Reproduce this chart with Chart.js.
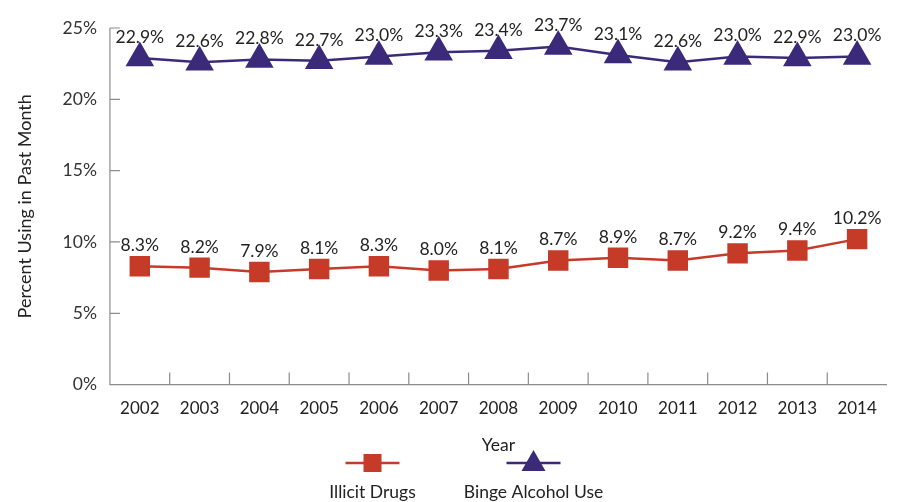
<!DOCTYPE html>
<html>
<head>
<meta charset="utf-8">
<script src="https://cdn.jsdelivr.net/npm/chart.js@4.4.0/dist/chart.umd.min.js"></script>
<style>
  html, body { margin: 0; padding: 0; background: #fff; }
  #wrap { width: 905px; height: 502px; }
</style>
</head>
<body>
<div id="wrap"><canvas id="grafico" width="905" height="502"></canvas></div>
<script>
// Datos del gráfico
const years = ['2002', '2003', '2004', '2005', '2006', '2007', '2008', '2009', '2010', '2011', '2012', '2013', '2014'];
const illicitDrugs = [8.3, 8.2, 7.9, 8.1, 8.3, 8.0, 8.1, 8.7, 8.9, 8.7, 9.2, 9.4, 10.2];
const bingeAlcohol = [22.9, 22.6, 22.8, 22.7, 23.0, 23.3, 23.4, 23.7, 23.1, 22.6, 23.0, 22.9, 23.0];
const yTicks = [0, 5, 10, 15, 20, 25];

const RED = '#c63a28';
const PURPLE = '#3b2a7a';
const AXIS = '#8c8c8c';
const FONT = 'Lato, "Open Sans", sans-serif';

// Etiquetas de valor encima de cada punto
const etiquetas = {
  id: 'etiquetas',
  afterDatasetsDraw(chart) {
    const ctx = chart.ctx;
    ctx.save();
    ctx.font = '17.5px ' + FONT;
    ctx.fillStyle = '#222';
    ctx.textAlign = 'center';
    ctx.textBaseline = 'bottom';
    chart.data.datasets.forEach((ds, i) => {
      chart.getDatasetMeta(i).data.forEach((pt, j) => {
        ctx.fillText(ds.data[j].toFixed(1) + '%', pt.x, pt.y - 12);
      });
    });
    ctx.restore();
  }
};

// Marcas de los ejes hacia adentro y leyenda abajo
const ejesYLeyenda = {
  id: 'ejesYLeyenda',
  afterDraw(chart) {
    const ctx = chart.ctx;
    const x = chart.scales.x, y = chart.scales.y;
    const a = chart.chartArea;
    ctx.save();
    ctx.strokeStyle = AXIS;
    ctx.lineWidth = 1.2;
    ctx.beginPath();
    ctx.moveTo(a.left, a.top);
    ctx.lineTo(a.left, a.bottom);
    ctx.lineTo(a.right, a.bottom);
    yTicks.forEach(v => {
      if (v === 0) return;
      const py = y.getPixelForValue(v);
      ctx.moveTo(a.left, py);
      ctx.lineTo(a.left + 10, py);
    });
    for (let i = 0; i < years.length - 1; i++) {
      const px = (x.getPixelForTick(i) + x.getPixelForTick(i + 1)) / 2;
      ctx.moveTo(px, a.bottom);
      ctx.lineTo(px, a.bottom - 12);
    }
    ctx.stroke();

    // leyenda
    const cx = chart.width / 2;
    const ly = 463;
    const items = [
      { label: 'Illicit Drugs', color: RED, shape: 'rect', x: cx - 80 },
      { label: 'Binge Alcohol Use', color: PURPLE, shape: 'triangle', x: cx + 81 }
    ];
    items.forEach(it => {
      ctx.strokeStyle = it.color;
      ctx.lineWidth = 2.5;
      ctx.beginPath();
      ctx.moveTo(it.x - 27, ly);
      ctx.lineTo(it.x + 27, ly);
      ctx.stroke();
      ctx.fillStyle = it.color;
      if (it.shape === 'rect') {
        ctx.fillRect(it.x - 9, ly - 9, 18, 18);
      } else {
        ctx.beginPath();
        ctx.moveTo(it.x, ly - 13);
        ctx.lineTo(it.x + 12, ly + 8);
        ctx.lineTo(it.x - 12, ly + 8);
        ctx.closePath();
        ctx.fill();
      }
      ctx.fillStyle = '#222';
      ctx.font = '17.5px ' + FONT;
      ctx.textAlign = 'center';
      ctx.textBaseline = 'top';
      ctx.fillText(it.label, it.x, ly + 21);
    });
    ctx.restore();
  }
};

const ctx = document.getElementById('grafico').getContext('2d');
new Chart(ctx, {
  type: 'line',
  data: {
    labels: years,
    datasets: [
      {
        label: 'Illicit Drugs',
        data: illicitDrugs,
        borderColor: RED,
        backgroundColor: RED,
        borderWidth: 2.5,
        pointStyle: 'rect',
        pointRadius: 12.7,
        pointHoverRadius: 12.7,
        tension: 0
      },
      {
        label: 'Binge Alcohol Use',
        data: bingeAlcohol,
        borderColor: PURPLE,
        backgroundColor: PURPLE,
        borderWidth: 2.5,
        pointStyle: 'triangle',
        pointRadius: 14,
        pointHoverRadius: 14,
        tension: 0
      }
    ]
  },
  options: {
    responsive: false,
    animation: false,
    layout: { padding: { top: 28, right: 18, bottom: 46, left: 10 } },
    plugins: {
      legend: { display: false },
      tooltip: { enabled: false }
    },
    scales: {
      x: {
        offset: true,
        grid: { display: false, drawTicks: false },
        border: { display: false },
        ticks: { color: '#222', font: { family: FONT, size: 17 }, padding: 14 },
        title: { display: true, text: 'Year', color: '#222', font: { family: FONT, size: 17.5 }, padding: { top: 2, bottom: 0 } }
      },
      y: {
        min: 0,
        max: 25,
        afterBuildTicks: axis => { axis.ticks = yTicks.map(v => ({ value: v })); },
        grid: { display: false, drawTicks: false },
        border: { display: false },
        ticks: { color: '#333', font: { family: FONT, size: 17.5 }, padding: 13, callback: v => v + '%' },
        title: { display: true, text: 'Percent Using in Past Month', color: '#222', font: { family: FONT, size: 18 }, padding: { bottom: 14 } }
      }
    }
  },
  plugins: [etiquetas, ejesYLeyenda]
});
</script>
</body>
</html>
